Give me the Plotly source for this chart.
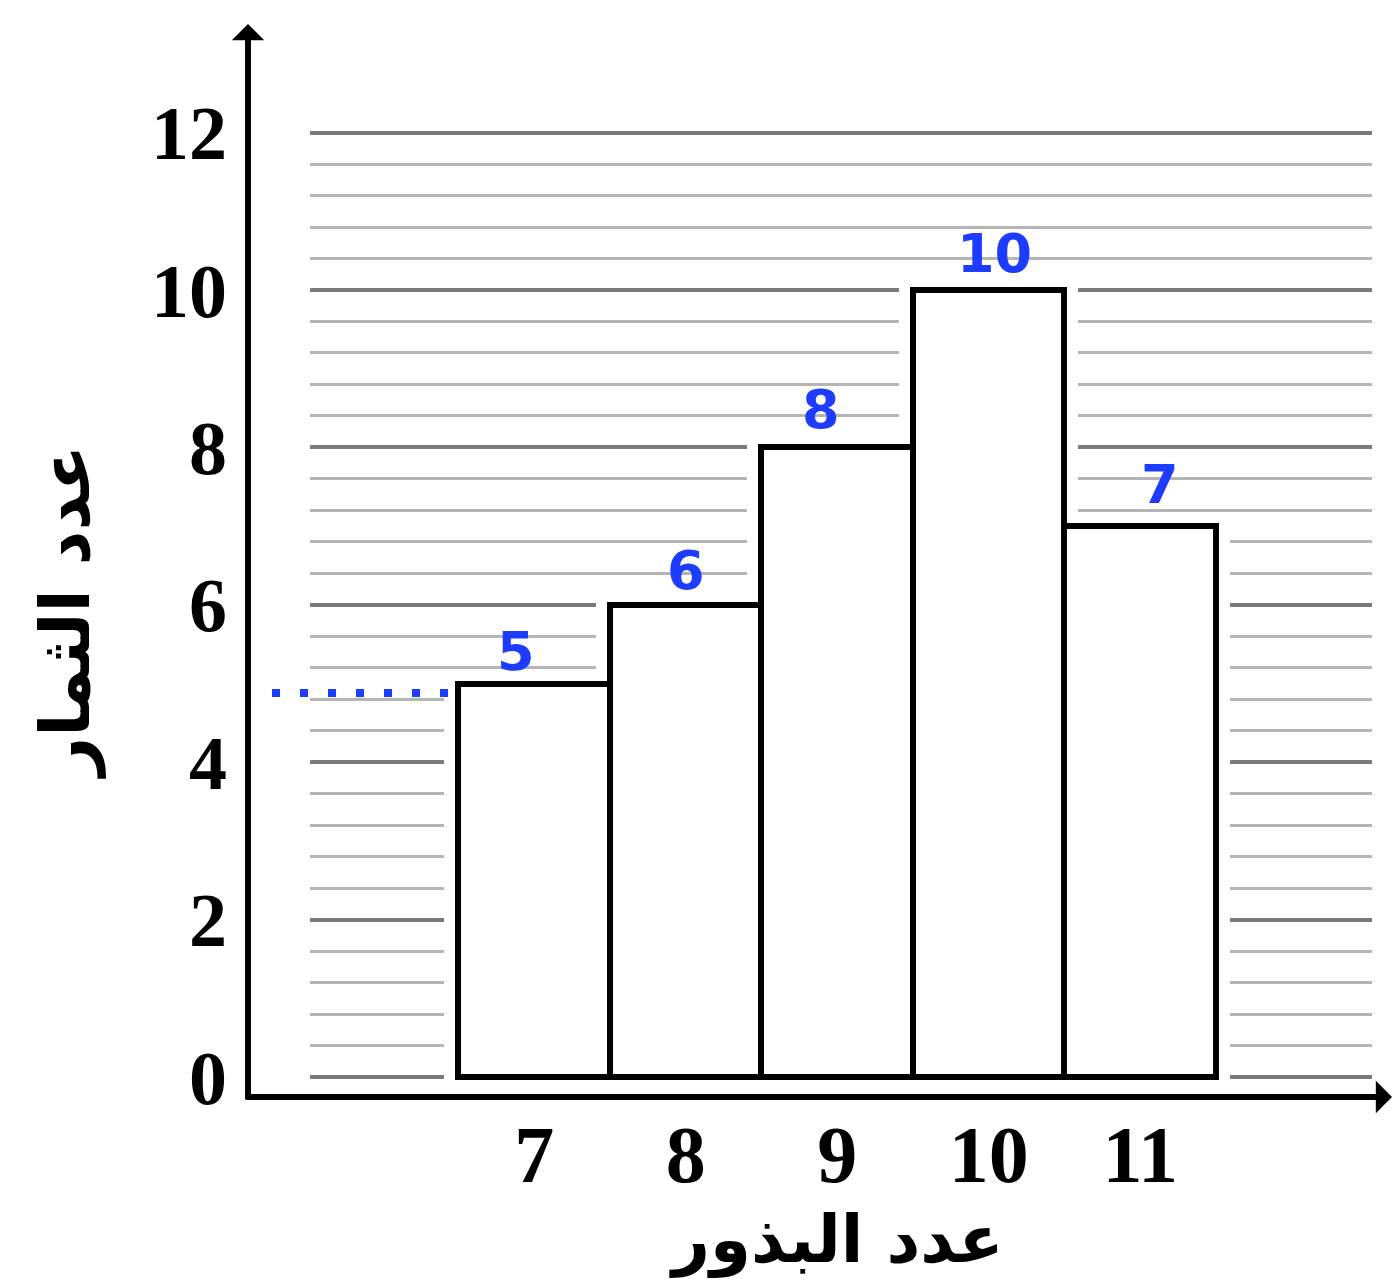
import plotly.graph_objects as go

# ---- data ----
seeds = [7, 8, 9, 10, 11]            # عدد البذور
fruits = [5, 6, 8, 10, 7]            # عدد الثمار
hand_labels = ["5", "6", "8", "10", "7"]
y_ticks = [0, 2, 4, 6, 8, 10, 12]
guide_level = 4.88                   # blue dotted guide drawn by hand

# ---- layout / style settings ----
W, H = 1393, 1287
ML, MR, MT, MB = 310, 21, 109, 206
XR = [5.52, 12.53]
YR = [-0.05, 12.3]
PW, PH = W - ML - MR, H - MT - MB
label_xshift = [-18, 0, -16, 6, 20]   # hand-written placement offsets (px)
label_yshift = [32, 34, 38, 37, 42]

def px_to_paper_x(px):
    return (px - ML) / PW

def px_to_paper_y(py):
    return (H - MB - py) / PH

BLUE = "#1e3cff"

fig = go.Figure()

# white halo behind bars (gap between ruled lines and bars)
fig.add_trace(go.Bar(
    x=seeds, y=fruits, width=1,
    marker=dict(color="white", line=dict(color="white", width=28)),
    hoverinfo="skip", showlegend=False,
))
# the bars
fig.add_trace(go.Bar(
    x=seeds, y=fruits, width=1,
    marker=dict(color="white", line=dict(color="black", width=6)),
    showlegend=False,
))

annotations = []
# handwritten value labels
for xv, yv, lab, dx, dy in zip(seeds, fruits, hand_labels, label_xshift, label_yshift):
    annotations.append(dict(
        x=xv, y=yv, xref="x", yref="y", text=lab, showarrow=False,
        yanchor="middle", xshift=dx, yshift=dy,
        font=dict(family="DejaVu Sans", size=54, color=BLUE, weight="bold"),
    ))

# axis arrows
axis_x_px = 248
axis_y_px = 1097
annotations.append(dict(
    x=px_to_paper_x(axis_x_px), y=px_to_paper_y(24), xref="paper", yref="paper",
    ax=0, ay=axis_y_px + 4 - 24, axref="pixel", ayref="pixel",
    text="", showarrow=True, arrowhead=1, arrowwidth=6, arrowsize=0.9,
    arrowcolor="black",
))
annotations.append(dict(
    x=px_to_paper_x(1393), y=px_to_paper_y(axis_y_px), xref="paper", yref="paper",
    ax=-(1393 - axis_x_px + 3), ay=0, axref="pixel", ayref="pixel",
    text="", showarrow=True, arrowhead=1, arrowwidth=6, arrowsize=0.9,
    arrowcolor="black",
))

# axis titles
annotations.append(dict(
    x=px_to_paper_x(836), y=px_to_paper_y(1240), xref="paper", yref="paper",
    text="عدد البذور", showarrow=False, xanchor="center", yanchor="middle",
    font=dict(family="DejaVu Sans", size=66, color="black", weight="bold"),
))
annotations.append(dict(
    x=px_to_paper_x(66), y=px_to_paper_y(612), xref="paper", yref="paper",
    text="عدد الثمار", showarrow=False, textangle=-90,
    xanchor="center", yanchor="middle",
    font=dict(family="DejaVu Sans", size=68, color="black", weight="bold"),
))

# blue dotted guide from the axis to the first bar
shapes = [dict(
    type="line", xref="paper", yref="y",
    x0=px_to_paper_x(272),
    x1=(seeds[0] - 0.5 - XR[0]) / (XR[1] - XR[0]),
    y0=guide_level, y1=guide_level,
    line=dict(color=BLUE, width=8, dash="8px,20px"),
)]

fig.update_layout(
    width=W, height=H,
    margin=dict(l=ML, r=MR, t=MT, b=MB),
    paper_bgcolor="white", plot_bgcolor="white",
    barmode="overlay", bargap=0,
    showlegend=False,
    annotations=annotations,
    shapes=shapes,
    xaxis=dict(
        range=XR, tickmode="array", tickvals=seeds,
        ticktext=[str(s) for s in seeds],
        showgrid=False, zeroline=False, showline=False, ticks="",
        ticklabelstandoff=20,
        tickfont=dict(family="Liberation Serif", size=80, color="black", weight="bold"),
    ),
    yaxis=dict(
        range=YR, tickmode="array", tickvals=y_ticks,
        ticktext=[str(t) for t in y_ticks],
        showgrid=True, gridcolor="#7a7a7a", gridwidth=4,
        zeroline=False, showline=False, ticks="",
        ticklabelstandoff=82,
        tickfont=dict(family="Liberation Serif", size=76, color="black", weight="bold"),
        minor=dict(dtick=0.4, tick0=0, showgrid=True, gridcolor="#b5b5b5", gridwidth=3),
    ),
)

fig.write_html("out.html", post_script="document.body.style.margin='0';",
               config={"displayModeBar": False})
